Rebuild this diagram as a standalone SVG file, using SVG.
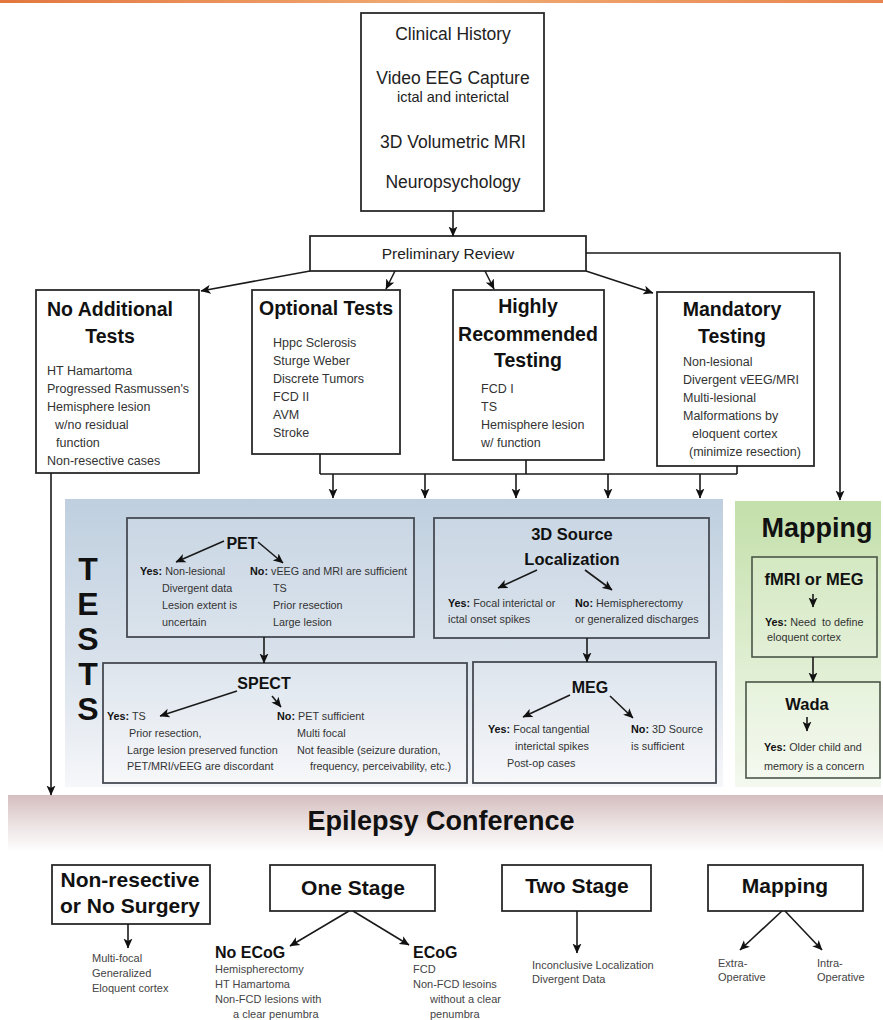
<svg xmlns="http://www.w3.org/2000/svg" width="883" height="1020" viewBox="0 0 883 1020">
<defs>
<style>
text{font-family:"Liberation Sans",Arial,Helvetica,sans-serif}
.box{fill:#fff;stroke:#2a2a2a;stroke-width:1.8}
.tbox{fill:#ffffff;fill-opacity:0.12;stroke:#464b53;stroke-width:1.8}
.gbox{fill:#ffffff;fill-opacity:0.15;stroke:#4a5548;stroke-width:1.6}
.h{font-weight:bold;fill:#111}
.c{text-anchor:middle}
.top{font-size:17.5px;fill:#222}
.b{font-size:12.5px;fill:#333}
.s{font-size:10.8px;fill:#333}
.bt{font-size:11px;fill:#444}
.ln{fill:none;stroke:#1a1a1a;stroke-width:1.6}
.ar{marker-end:url(#ah)}
</style>
<marker id="ah" viewBox="0 0 10 10" refX="9.5" refY="5" markerWidth="10" markerHeight="10" markerUnits="userSpaceOnUse" orient="auto"><path d="M0,0.5 L10,5 L0,9.5 L2.5,5 z" fill="#111"/></marker>
<linearGradient id="gTop" x1="0" y1="0" x2="1" y2="0"><stop offset="0" stop-color="#e2773f"/><stop offset="0.5" stop-color="#f1ac74"/><stop offset="1" stop-color="#e8864f"/></linearGradient>
<linearGradient id="gTests" x1="0" y1="0" x2="0" y2="1"><stop offset="0" stop-color="#bfcfdf"/><stop offset="0.6" stop-color="#dbe3ec"/><stop offset="1" stop-color="#f6f7fa"/></linearGradient>
<linearGradient id="gMap" x1="0" y1="0" x2="0" y2="1"><stop offset="0" stop-color="#c3dfaa"/><stop offset="0.6" stop-color="#e1efd4"/><stop offset="1" stop-color="#f4f9ef"/></linearGradient>
<linearGradient id="gConf" x1="0" y1="0" x2="0" y2="1"><stop offset="0" stop-color="#d5bebf"/><stop offset="0.5" stop-color="#ebe1e1"/><stop offset="1" stop-color="#ffffff"/></linearGradient>
</defs>
<rect x="0" y="0" width="883" height="1020" fill="#fff"/>
<rect x="0" y="0" width="883" height="3" fill="url(#gTop)"/>

<g id="panel-tests">
<rect x="65" y="499" width="658" height="288" fill="url(#gTests)"/>
<text class="h c" font-size="32" x="88" y="580">T</text>
<text class="h c" font-size="32" x="88" y="615">E</text>
<text class="h c" font-size="32" x="88" y="650">S</text>
<text class="h c" font-size="32" x="88" y="685">T</text>
<text class="h c" font-size="32" x="88" y="720">S</text>
</g>
<g id="panel-mapping">
<rect x="735" y="501" width="146" height="286" fill="url(#gMap)"/>
<text class="h c" font-size="27" x="817" y="537">Mapping</text>
</g>
<g id="conference">
<rect x="8" y="795" width="875" height="57" fill="url(#gConf)"/>
<text class="h c" font-size="27" x="441" y="830" fill="#1a1a1a">Epilepsy Conference</text>
</g>

<g id="node-workup">
<rect class="box" x="361" y="13" width="183" height="198"/>
<text class="top c" x="453" y="40">Clinical History</text>
<text class="top c" x="453" y="84">Video EEG Capture</text>
<text class="c" font-size="14.5" fill="#222" x="453" y="102">ictal and interictal</text>
<text class="top c" x="453" y="148">3D Volumetric MRI</text>
<text class="top c" x="453" y="188">Neuropsychology</text>
</g>
<g id="node-preliminary">
<rect class="box" x="310" y="236" width="276" height="35"/>
<text class="c" font-size="15.5" fill="#222" x="448" y="259">Preliminary Review</text>
</g>
<g id="node-no-additional">
<rect class="box" x="36" y="290" width="163" height="183"/>
<text class="h c" font-size="19.5" x="110" y="316">No Additional</text>
<text class="h c" font-size="19.5" x="110" y="343">Tests</text>
<text class="b" x="47" y="375">HT Hamartoma</text>
<text class="b" x="47" y="393">Progressed Rasmussen's</text>
<text class="b" x="47" y="411">Hemisphere lesion</text>
<text class="b" x="55" y="429">w/no residual</text>
<text class="b" x="56" y="447">function</text>
<text class="b" x="47" y="465">Non-resective cases</text>
</g>
<g id="node-optional">
<rect class="box" x="252" y="290" width="148" height="164"/>
<text class="h c" font-size="19.5" x="326" y="315">Optional Tests</text>
<text class="b" x="273" y="347">Hppc Sclerosis</text>
<text class="b" x="273" y="365">Sturge Weber</text>
<text class="b" x="273" y="383">Discrete Tumors</text>
<text class="b" x="273" y="401">FCD II</text>
<text class="b" x="273" y="419">AVM</text>
<text class="b" x="273" y="437">Stroke</text>
</g>
<g id="node-highly">
<rect class="box" x="453" y="290" width="151" height="170"/>
<text class="h c" font-size="19.5" x="528" y="313">Highly</text>
<text class="h c" font-size="19.5" x="528" y="341">Recommended</text>
<text class="h c" font-size="19.5" x="528" y="367">Testing</text>
<text class="b" x="481" y="393">FCD I</text>
<text class="b" x="481" y="411">TS</text>
<text class="b" x="481" y="429">Hemisphere lesion</text>
<text class="b" x="481" y="447">w/ function</text>
</g>
<g id="node-mandatory">
<rect class="box" x="657" y="292" width="157" height="174"/>
<text class="h c" font-size="19.5" x="732" y="316">Mandatory</text>
<text class="h c" font-size="19.5" x="732" y="343">Testing</text>
<text class="b" x="683" y="366">Non-lesional</text>
<text class="b" x="683" y="384">Divergent vEEG/MRI</text>
<text class="b" x="683" y="402">Multi-lesional</text>
<text class="b" x="683" y="420">Malformations by</text>
<text class="b" x="692" y="438">eloquent cortex</text>
<text class="b" x="689" y="456">(minimize resection)</text>
</g>

<g id="node-pet">
<rect class="tbox" x="127" y="518" width="287" height="119"/>
<text class="h c" font-size="16" x="242" y="549">PET</text>
<text class="s" x="140" y="575"><tspan class="h">Yes:</tspan> Non-lesional</text>
<text class="s" x="162" y="592">Divergent data</text>
<text class="s" x="162" y="609">Lesion extent is</text>
<text class="s" x="162" y="626">uncertain</text>
<text class="s" x="250" y="575"><tspan class="h">No:</tspan> vEEG and MRI are sufficient</text>
<text class="s" x="273" y="592">TS</text>
<text class="s" x="273" y="609">Prior resection</text>
<text class="s" x="273" y="626">Large lesion</text>
</g>
<g id="node-3d-source">
<rect class="tbox" x="434" y="518" width="275" height="120"/>
<text class="h c" font-size="16.5" x="572" y="540">3D Source</text>
<text class="h c" font-size="16.5" x="572" y="565">Localization</text>
<text class="s" x="448" y="607"><tspan class="h">Yes:</tspan> Focal interictal or</text>
<text class="s" x="448" y="623">ictal onset spikes</text>
<text class="s" x="575" y="607"><tspan class="h">No:</tspan> Hemispherectomy</text>
<text class="s" x="575" y="623">or generalized discharges</text>
</g>
<g id="node-spect">
<rect class="tbox" x="103" y="663" width="364" height="120"/>
<text class="h c" font-size="16" x="264" y="689">SPECT</text>
<text class="s" x="107" y="720"><tspan class="h">Yes:</tspan> TS</text>
<text class="s" x="129" y="737">Prior resection,</text>
<text class="s" x="127" y="754">Large lesion preserved function</text>
<text class="s" x="127" y="770">PET/MRI/vEEG are discordant</text>
<text class="s" x="277" y="720"><tspan class="h">No:</tspan> PET sufficient</text>
<text class="s" x="297" y="737">Multi focal</text>
<text class="s" x="297" y="754">Not feasible (seizure duration,</text>
<text class="s" x="310" y="770">frequency, perceivability, etc.)</text>
</g>
<g id="node-meg">
<rect class="tbox" x="473" y="662" width="243" height="121"/>
<text class="h c" font-size="16" x="590" y="693">MEG</text>
<text class="s" x="488" y="733"><tspan class="h">Yes:</tspan> Focal tangential</text>
<text class="s" x="515" y="750">interictal spikes</text>
<text class="s" x="507" y="767">Post-op cases</text>
<text class="s" x="631" y="733"><tspan class="h">No:</tspan> 3D Source</text>
<text class="s" x="631" y="750">is sufficient</text>
</g>
<g id="node-fmri">
<rect class="gbox" x="752" y="557" width="125" height="100"/>
<text class="h c" font-size="16.5" x="814" y="585">fMRI or MEG</text>
<text class="s" x="765" y="626" style="white-space:pre"><tspan class="h">Yes:</tspan> Need  to define</text>
<text class="s" x="767" y="641">eloquent cortex</text>
</g>
<g id="node-wada">
<rect class="gbox" x="746" y="682" width="134" height="96"/>
<text class="h c" font-size="16.5" x="807" y="710">Wada</text>
<text class="s" x="764" y="751"><tspan class="h">Yes:</tspan> Older child and</text>
<text class="s" x="764" y="770">memory is a concern</text>
</g>

<g id="node-non-resective">
<rect class="box" x="52" y="865" width="158" height="59"/>
<text class="h c" font-size="21" x="130" y="887">Non-resective</text>
<text class="h c" font-size="21" x="130" y="913">or No Surgery</text>
<text class="bt" x="92" y="962">Multi-focal</text>
<text class="bt" x="92" y="977">Generalized</text>
<text class="bt" x="92" y="992">Eloquent cortex</text>
</g>
<g id="node-one-stage">
<rect class="box" x="270" y="865" width="165" height="46"/>
<text class="h c" font-size="21" x="353" y="895">One Stage</text>
<text class="h" font-size="16" x="215" y="958">No ECoG</text>
<text class="bt" x="215" y="973">Hemispherectomy</text>
<text class="bt" x="215" y="988">HT Hamartoma</text>
<text class="bt" x="215" y="1003">Non-FCD lesions with</text>
<text class="bt" x="233" y="1018">a clear penumbra</text>
<text class="h" font-size="16" x="413" y="958">ECoG</text>
<text class="bt" x="413" y="973">FCD</text>
<text class="bt" x="413" y="988">Non-FCD lesoins</text>
<text class="bt" x="430" y="1003">without a clear</text>
<text class="bt" x="430" y="1018">penumbra</text>
</g>
<g id="node-two-stage">
<rect class="box" x="502" y="865" width="149" height="46"/>
<text class="h c" font-size="21" x="577" y="893">Two Stage</text>
<text class="bt" x="532" y="969">Inconclusive Localization</text>
<text class="bt" x="532" y="983">Divergent Data</text>
</g>
<g id="node-mapping-surgery">
<rect class="box" x="708" y="865" width="155" height="46"/>
<text class="h c" font-size="21" x="785" y="893">Mapping</text>
<text class="bt" x="718" y="967">Extra-</text>
<text class="bt" x="718" y="981">Operative</text>
<text class="bt" x="817" y="967">Intra-</text>
<text class="bt" x="817" y="981">Operative</text>
</g>

<g id="connectors">
<path class="ln ar" d="M453,211 V236"/>
<path class="ln ar" d="M310,271 L201,291"/>
<path class="ln ar" d="M395,271 L386,289"/>
<path class="ln ar" d="M485,271 L494,289"/>
<path class="ln ar" d="M586,271 L653,293"/>
<path class="ln ar" d="M586,253 H840 V500"/>
<path class="ln ar" d="M51,473 V795"/>
<path class="ln" d="M320,454 V474 M526,460 V474 M737,466 V474 M320,474 H737"/>
<path class="ln ar" d="M333,474 V498"/>
<path class="ln ar" d="M425,474 V498"/>
<path class="ln ar" d="M516,474 V498"/>
<path class="ln ar" d="M608,474 V498"/>
<path class="ln ar" d="M700,474 V498"/>
<path class="ln ar" d="M224,541 L176,562"/>
<path class="ln ar" d="M258,542 L283,563"/>
<path class="ln ar" d="M537,570 L498,588"/>
<path class="ln ar" d="M585,570 L612,590"/>
<path class="ln ar" d="M264,637 V663"/>
<path class="ln ar" d="M587,638 V662"/>
<path class="ln ar" d="M237,691 L160,716"/>
<path class="ln ar" d="M272,696 L281,707"/>
<path class="ln ar" d="M570,695 L523,717"/>
<path class="ln ar" d="M610,696 L633,718"/>
<path class="ln ar" d="M813,594 V607"/>
<path class="ln ar" d="M813,657 V682"/>
<path class="ln ar" d="M807,717 V731"/>
<path class="ln ar" d="M128,924 V948"/>
<path class="ln ar" d="M349,911 L290,946"/>
<path class="ln ar" d="M353,911 L409,945"/>
<path class="ln ar" d="M577,911 V953"/>
<path class="ln ar" d="M782,911 L740,950"/>
<path class="ln ar" d="M785,911 L822,950"/>
</g>
</svg>
